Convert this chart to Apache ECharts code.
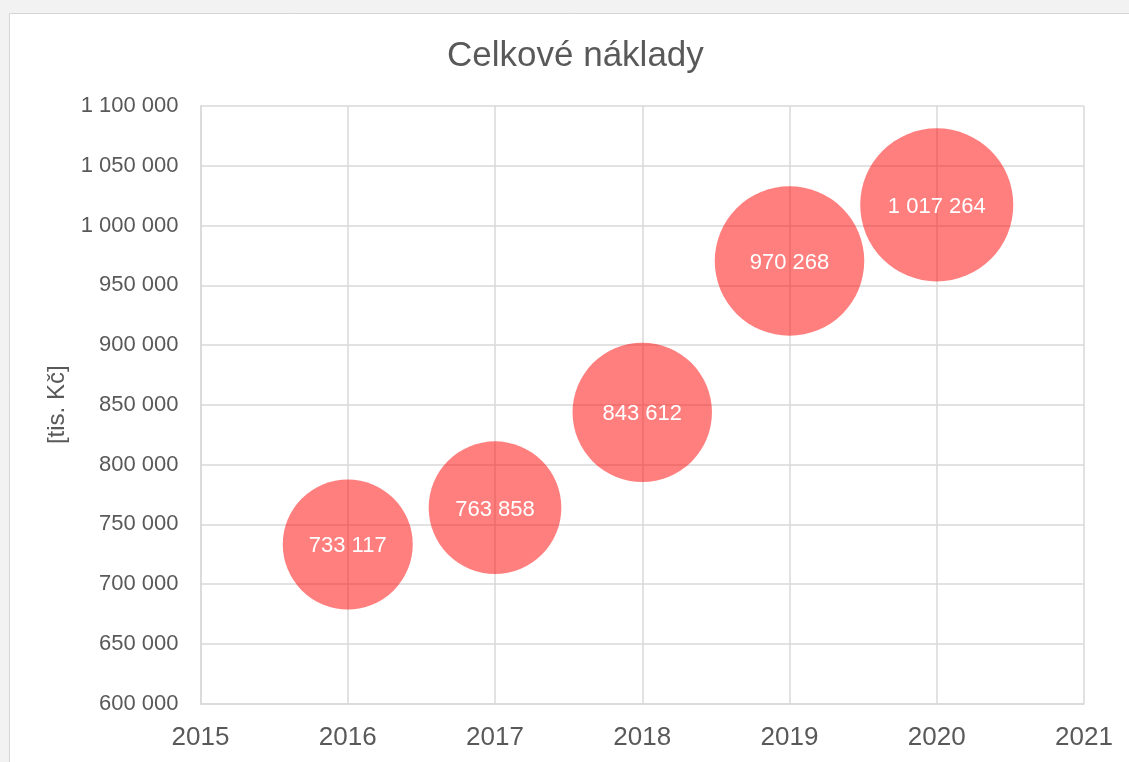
<!DOCTYPE html>
<html>
<head>
<meta charset="utf-8">
<script src="https://cdn.jsdelivr.net/npm/echarts@6/dist/echarts.min.js"></script>
<style>
html,body{margin:0;padding:0;background:#f2f2f2;}
#chart{width:1129px;height:762px;}
</style>
</head>
<body>
<div id="chart"></div>
<script>
const title = 'Celkové náklady';
const yAxisName = '[tis. Kč]';
const years = [2016, 2017, 2018, 2019, 2020];
const costs = [733117, 763858, 843612, 970268, 1017264];
const xMin = 2015, xMax = 2021, xStep = 1;
const yMin = 600000, yMax = 1100000, yStep = 50000;

function fmt(v) {
  return String(Math.round(v)).replace(/\B(?=(\d{3})+(?!\d))/g, ' ');
}

const chart = echarts.init(document.getElementById('chart'));
const font = '"Liberation Sans", Arial, sans-serif';
const textColor = '#595959';
const gridColor = '#d9d9d9';

chart.setOption({
  backgroundColor: '#f2f2f2',
  animation: false,
  graphic: [{
    type: 'rect',
    z: -10,
    silent: true,
    shape: { x: 9.5, y: 13.5, width: 1200, height: 800 },
    style: { fill: '#ffffff', stroke: '#d6d6d6', lineWidth: 1 }
  }],
  title: {
    text: title,
    left: 447,
    top: 39,
    padding: 0,
    textStyle: { fontFamily: font, fontSize: 35, fontWeight: 'normal', color: textColor }
  },
  grid: { left: 200.5, right: 45, top: 106, bottom: 58.5, containLabel: false },
  xAxis: {
    type: 'value',
    min: xMin, max: xMax, interval: xStep,
    axisLine: { show: true, lineStyle: { color: gridColor, width: 1.5 } },
    axisTick: { show: false },
    splitLine: { show: true, lineStyle: { color: gridColor, width: 1.5 } },
    axisLabel: { margin: 21, fontFamily: font, fontSize: 26, color: textColor, formatter: v => String(v) }
  },
  yAxis: {
    type: 'value',
    min: yMin, max: yMax, interval: yStep,
    name: yAxisName,
    nameLocation: 'middle',
    nameRotate: 90,
    nameGap: 130,
    nameTextStyle: { fontFamily: font, fontSize: 24, color: textColor },
    axisLine: { show: true, lineStyle: { color: gridColor, width: 1.5 } },
    axisTick: { show: false },
    splitLine: { show: true, lineStyle: { color: gridColor, width: 1.5 } },
    axisLabel: { margin: 22, fontFamily: font, fontSize: 22, color: textColor, formatter: v => fmt(v) }
  },
  series: [{
    type: 'scatter',
    data: years.map((y, i) => [y, costs[i]]),
    symbol: 'circle',
    symbolSize: d => Math.sqrt(d[1]) * 0.1518,
    itemStyle: { color: 'rgba(255,0,0,0.5)', opacity: 1 },
    label: {
      show: true,
      position: 'inside',
      offset: [0, 2],
      formatter: p => fmt(p.value[1]),
      fontFamily: font,
      fontSize: 22,
      color: '#ffffff'
    },
    emphasis: { disabled: true }
  }]
});
</script>
</body>
</html>
